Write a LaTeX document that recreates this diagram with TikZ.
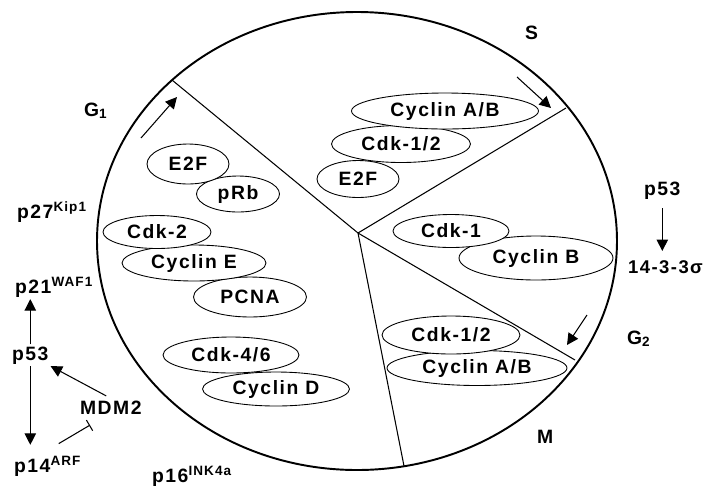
\documentclass[tikz,border=0pt]{standalone}
\usepackage{fontspec}
\setmainfont{Liberation Sans}[LetterSpace=8]
\usetikzlibrary{arrows.meta}
\usetikzlibrary{shapes.geometric}

\tikzset{
  prot/.style={ellipse, draw, fill=white, line width=0.5pt, inner sep=0pt},
  lbl/.style={inner sep=1pt, anchor=base west},
  arr/.style={-{Triangle[length=6.5pt, width=6.5pt]}, line width=0.6pt},
  inh/.style={-{Bar[width=7pt]}, line width=0.6pt},
}

\begin{document}
\begin{tikzpicture}[x=0.02cm, y=-0.02cm, font=\bfseries\fontsize{11}{13}\selectfont]
  \useasboundingbox (0,0) rectangle (707,488);

  % the cycle and its four phases
  \draw[line width=1.1pt] (357,241) ellipse [x radius=260, y radius=229];
  \coordinate (hub) at (358,233);
  \coordinate (rG1) at (172,80);
  \coordinate (rS) at (566,108);
  \coordinate (rG2) at (575,360);
  \coordinate (rM) at (404,466);
  \draw[line width=0.6pt] (hub) -- (rG1) (hub) -- (rS) (hub) -- (rG2) (hub) -- (rM);

  % G1 complexes
  \node[prot, minimum width=1.66cm, minimum height=0.72cm] (prb) at (238,194) {pRb};
  \node[prot, minimum width=1.64cm, minimum height=0.80cm] (e2fG) at (188,164) {E2F};
  \node[prot, minimum width=2.26cm, minimum height=0.80cm] (pcna) at (250,297) {PCNA};
  \node[prot, minimum width=2.88cm, minimum height=0.72cm] (cyce) at (194,263) {Cyclin E};
  \node[prot, minimum width=2.16cm, minimum height=0.66cm] (cdk2) at (157,232) {Cdk-2};
  \node[prot, minimum width=2.94cm, minimum height=0.68cm] (cycd) at (276,389) {Cyclin D};
  \node[prot, minimum width=2.72cm, minimum height=0.72cm] (cdk46) at (231,355) {Cdk-4/6};

  % S complexes
  \node[prot, minimum width=1.64cm, minimum height=0.74cm] (e2fS) at (358,179) {E2F};
  \node[prot, minimum width=2.78cm, minimum height=0.74cm] (cdkS) at (401,144) {Cdk-1/2};
  \node[prot, minimum width=3.74cm, minimum height=0.72cm] (cabS) at (445,111) {Cyclin A/B};

  % G2 and M complexes
  \node[prot, minimum width=3.08cm, minimum height=0.88cm] (cycb) at (536,258) {Cyclin B};
  \node[prot, minimum width=2.32cm, minimum height=0.66cm] (cdk1) at (451,231) {Cdk-1};
  \node[prot, minimum width=3.60cm, minimum height=0.70cm] (cabM) at (477,368) {Cyclin A/B};
  \node[prot, minimum width=2.76cm, minimum height=0.76cm] (cdkM) at (451,335) {Cdk-1/2};

  % direction of the cycle
  \coordinate (g1a) at (141,138);
  \coordinate (g1b) at (177,97);
  \coordinate (sa) at (517,77);
  \coordinate (sb) at (551,108);
  \coordinate (g2a) at (587,315);
  \coordinate (g2b) at (567,345);
  \draw[arr] (g1a) -- (g1b);
  \draw[arr] (sa) -- (sb);
  \draw[arr] (g2a) -- (g2b);

  % phase names
  \node[lbl] (G1) at (82,116) {G\textsubscript{1}};
  \node[lbl] (S) at (523,39) {S};
  \node[lbl] (G2) at (625,344) {G\textsubscript{2}};
  \node[lbl] (M) at (535,443) {M};

  % inhibitors
  \node[lbl] (p27) at (15,218) {p27\textsuperscript{Kip1}};
  \node[lbl] (p21) at (13,293) {p21\textsuperscript{WAF1}};
  \node[lbl] (p53l) at (10,360) {p53};
  \node[lbl] (mdm2) at (78,414) {MDM2};
  \node[lbl] (p14) at (12,472) {p14\textsuperscript{ARF}};
  \node[lbl] (p16) at (150,482) {p16\textsuperscript{INK4a}};
  \node[lbl] (p53r) at (642,195) {p53};
  \node[lbl, anchor=base east, font=\bfseries\fontsize{10.5}{12}\selectfont] (s1433) at (705,273) {14-3-3σ};

  \draw[arr] (p53l.north) -- (p53l.north |- p21.south);
  \draw[arr, shorten >=5pt] (p53l.south) -- (p53l.south |- p14.north);
  \draw[arr, shorten <=3pt] (mdm2.north) -- (p53l.south east);
  \draw[inh] ([shift={(11,-10)}]p14.north) -- ([shift={(12,9)}]mdm2.south west);
  \draw[arr, shorten <=4pt, shorten >=4pt] (p53r.south) -- (p53r.south |- s1433.north);
\end{tikzpicture}
\end{document}
